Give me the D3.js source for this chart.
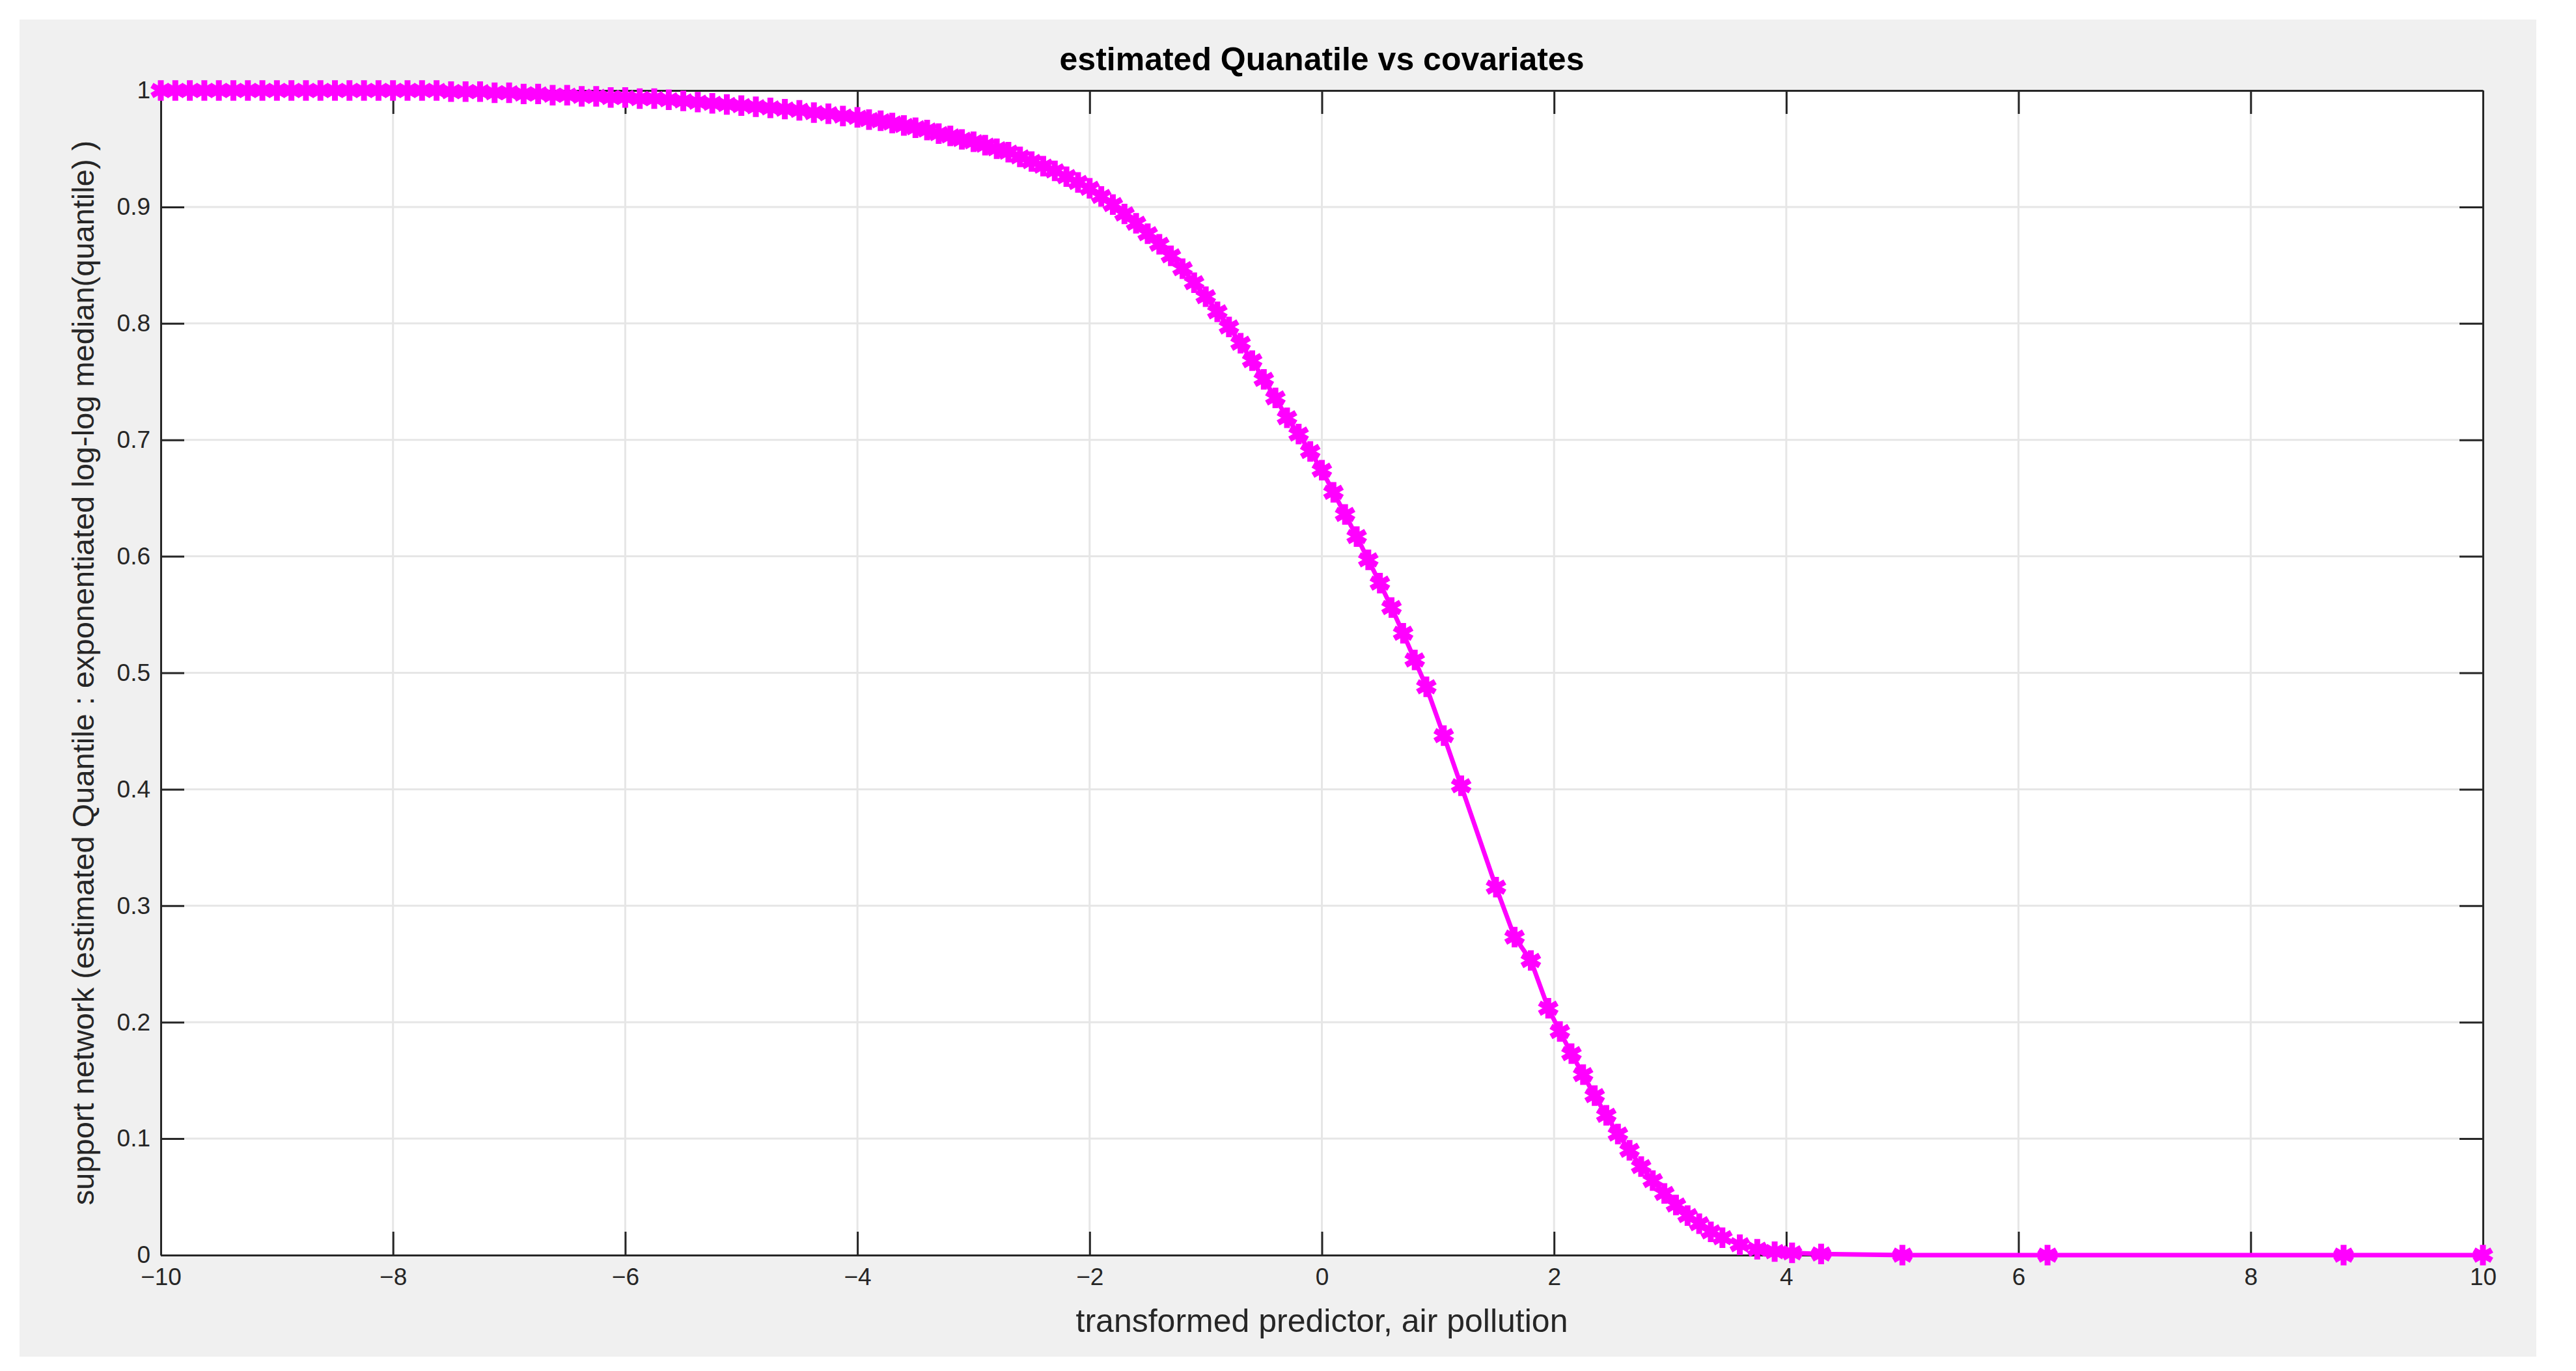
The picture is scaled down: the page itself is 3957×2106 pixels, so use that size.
<!DOCTYPE html>
<html>
<head>
<meta charset="utf-8">
<script src="https://cdn.jsdelivr.net/npm/d3@7"></script>
<style>
  body { margin: 0; background: #fff; }
  text { font-family: "Liberation Sans", Arial, sans-serif; }
</style>
</head>
<body>
<div id="chart"></div>
<script>
// Data
const xValues = [-10, -9.875, -9.75, -9.625, -9.5, -9.375, -9.25, -9.125, -9, -8.875, -8.75, -8.625, -8.5, -8.375,
    -8.25, -8.125, -8, -7.875, -7.75, -7.625, -7.5, -7.375, -7.25, -7.125, -7, -6.875, -6.75, -6.625, -6.5, -6.375,
    -6.25, -6.125, -6, -5.875, -5.75, -5.625, -5.5, -5.375, -5.25, -5.125, -5, -4.875, -4.75, -4.625, -4.5, -4.375,
    -4.25, -4.125, -4, -3.9, -3.8, -3.7, -3.6, -3.5, -3.4, -3.3, -3.2, -3.1, -3, -2.9, -2.8, -2.7, -2.6, -2.5, -2.4,
    -2.3, -2.2, -2.1,
    -2, -1.9, -1.8, -1.7, -1.6, -1.5, -1.4, -1.3, -1.2, -1.1, -1, -0.9, -0.8, -0.7, -0.6, -0.5, -0.4, -0.3,
    -0.2, -0.1, 0, 0.1, 0.2, 0.3, 0.4, 0.5, 0.6, 0.7, 0.8, 0.9, 1.05, 1.2, 1.5, 1.66, 1.8, 1.95, 2.05, 2.15,
    2.25, 2.35, 2.45, 2.55, 2.65, 2.75, 2.85, 2.95, 3.05, 3.15, 3.25, 3.35, 3.45, 3.6, 3.75, 3.9, 4.05, 4.3,
    5, 6.25, 8.8, 10];
const yValues = [1, 1, 1, 1, 1, 1, 1, 1, 1, 1, 1, 1, 1, 1, 1, 1, 1, 1, 1, 1,
    0.999, 0.999, 0.999, 0.998, 0.998, 0.997, 0.997, 0.996, 0.996, 0.995, 0.995, 0.994, 0.994, 0.993, 0.993, 0.992,
    0.991, 0.990, 0.989, 0.988, 0.987, 0.986, 0.985, 0.984, 0.983, 0.981, 0.98, 0.978, 0.977,
    0.975, 0.974, 0.972, 0.970, 0.968, 0.966, 0.963, 0.961, 0.958, 0.956, 0.953, 0.950, 0.947, 0.943, 0.939, 0.935,
    0.931, 0.926, 0.921,
    0.916, 0.909, 0.902, 0.894, 0.886, 0.877, 0.868, 0.858, 0.847, 0.835, 0.823, 0.810, 0.797, 0.783, 0.768, 0.752, 0.736, 0.719,
    0.705, 0.69, 0.674, 0.655, 0.636, 0.617, 0.597, 0.577, 0.556, 0.534, 0.511, 0.488, 0.446, 0.403, 0.316, 0.273, 0.253, 0.212, 0.192, 0.173,
    0.155, 0.137, 0.12, 0.104, 0.09, 0.076, 0.064, 0.053, 0.043, 0.034, 0.027, 0.02, 0.015, 0.009, 0.005, 0.003, 0.002, 0.001,
    0, 0, 0, 0];
const xTicks = [-10, -8, -6, -4, -2, 0, 2, 4, 6, 8, 10];
const yTicks = [0, 0.1, 0.2, 0.3, 0.4, 0.5, 0.6, 0.7, 0.8, 0.9, 1];

const W = 3957, H = 2106;
const plot = { left: 247, right: 3814, top: 139, bottom: 1928 };

const svg = d3.select('#chart').append('svg').attr('width', W).attr('height', H);

// Figure background
svg.append('rect').attr('x', 30).attr('y', 30).attr('width', 3866).attr('height', 2054).attr('fill', '#f0f0f0');

const x = d3.scaleLinear().domain([-10, 10]).range([plot.left, plot.right]);
const y = d3.scaleLinear().domain([0, 1]).range([plot.bottom, plot.top]);

svg.append('rect')
    .attr('x', plot.left).attr('y', plot.top)
    .attr('width', plot.right - plot.left).attr('height', plot.bottom - plot.top)
    .attr('fill', '#fff');

// Grid
const grid = svg.append('g').attr('stroke', '#e6e6e6').attr('stroke-width', 3);
grid.selectAll('.gx').data(xTicks.slice(1, -1)).join('line')
    .attr('x1', d => x(d)).attr('x2', d => x(d)).attr('y1', plot.top).attr('y2', plot.bottom);
grid.selectAll('.gy').data(yTicks.slice(1, -1)).join('line')
    .attr('y1', d => y(d)).attr('y2', d => y(d)).attr('x1', plot.left).attr('x2', plot.right);

// Axes (box style)
function styleAxis(g) {
    g.select('.domain').attr('stroke', '#262626').attr('stroke-width', 3);
    g.selectAll('.tick line').attr('stroke', '#262626').attr('stroke-width', 3);
    g.selectAll('.tick text').attr('fill', '#262626').style('font-size', '37px')
        .style('font-family', '"Liberation Sans", Arial, sans-serif');
}
const tickLen = 36;
svg.append('g').attr('transform', `translate(0,${plot.bottom})`)
    .call(d3.axisBottom(x).tickValues(xTicks).tickSize(-tickLen).tickPadding(20).tickSizeOuter(0))
    .call(styleAxis);
svg.append('g').attr('transform', `translate(0,${plot.top})`)
    .call(d3.axisTop(x).tickValues(xTicks).tickSize(-tickLen).tickFormat('').tickSizeOuter(0))
    .call(styleAxis);
svg.append('g').attr('transform', `translate(${plot.left},0)`)
    .call(d3.axisLeft(y).tickValues(yTicks).tickSize(-tickLen).tickPadding(16).tickSizeOuter(0)
        .tickFormat(d => d3.format('~g')(d)))
    .call(styleAxis);
svg.append('g').attr('transform', `translate(${plot.right},0)`)
    .call(d3.axisRight(y).tickValues(yTicks).tickSize(-tickLen).tickFormat('').tickSizeOuter(0))
    .call(styleAxis);

// Line + markers
const pts = xValues.map((v, i) => [v, yValues[i]]);
svg.append('path').datum(pts)
    .attr('fill', 'none').attr('stroke', '#ff00ff').attr('stroke-width', 7)
    .attr('d', d3.line().x(d => x(d[0])).y(d => y(d[1])));

const sym = d3.symbol().type(d3.symbolAsterisk).size(700);
svg.append('g').selectAll('path').data(pts).join('path')
    .attr('transform', d => `translate(${x(d[0])},${y(d[1])})`)
    .attr('d', sym)
    .attr('fill', 'none').attr('stroke', '#ff00ff').attr('stroke-width', 9);

// Labels
svg.append('text').attr('x', (plot.left + plot.right) / 2).attr('y', 108)
    .attr('text-anchor', 'middle').style('font-size', '50px').style('font-weight', 'bold')
    .attr('fill', '#000').text('estimated Quanatile vs covariates');
svg.append('text').attr('x', (plot.left + plot.right) / 2).attr('y', 2046)
    .attr('text-anchor', 'middle').style('font-size', '50px').attr('fill', '#262626')
    .text('transformed predictor, air pollution');
svg.append('text')
    .attr('transform', `translate(144,${(plot.top + plot.bottom) / 2}) rotate(-90)`)
    .attr('text-anchor', 'middle').style('font-size', '47px').attr('fill', '#262626')
    .text('support network (estimated Quantile : exponentiated log-log median(quantile) )');
</script>
</body>
</html>
